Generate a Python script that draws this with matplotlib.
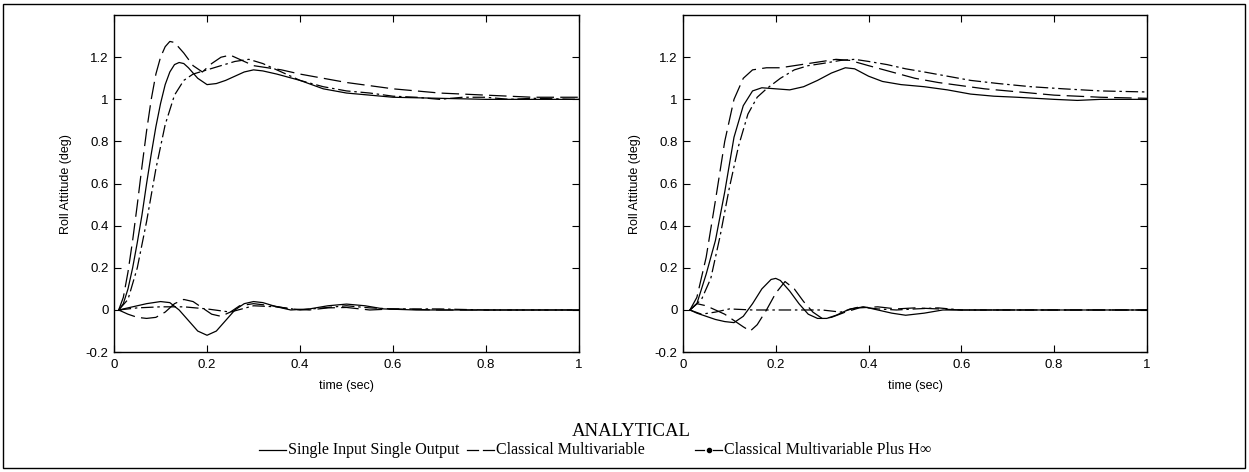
import numpy as np
import matplotlib
matplotlib.use("Agg")
import matplotlib.pyplot as plt
from matplotlib.lines import Line2D
from matplotlib.patches import Rectangle

# roll attitude step responses, left configuration
t_l_siso = [0.01, 0.02, 0.03, 0.04, 0.05, 0.06, 0.07, 0.08, 0.09, 0.10, 0.11, 0.12, 0.13, 0.14, 0.15,
            0.16, 0.18, 0.2, 0.22, 0.24, 0.26, 0.28, 0.3, 0.32, 0.35, 0.4, 0.45, 0.5, 0.55, 0.6, 0.7,
            0.8, 0.9, 1.0]
v_l_siso = [0, 0.03, 0.1, 0.2, 0.32, 0.45, 0.6, 0.74, 0.87, 0.98, 1.07, 1.13, 1.165, 1.175, 1.17,
            1.15, 1.1, 1.07, 1.075, 1.09, 1.11, 1.13, 1.14, 1.135, 1.12, 1.09, 1.05, 1.03, 1.02, 1.01,
            1.005, 1.0, 1.0, 1.0]
t_l_cm = [0.01, 0.02, 0.03, 0.04, 0.05, 0.06, 0.07, 0.08, 0.09, 0.1, 0.11, 0.12, 0.13, 0.15, 0.17,
          0.19, 0.21, 0.23, 0.25, 0.27, 0.3, 0.33, 0.36, 0.4, 0.45, 0.5, 0.55, 0.6, 0.7, 0.8, 0.9, 1.0]
v_l_cm = [0, 0.06, 0.18, 0.33, 0.5, 0.68, 0.85, 1.0, 1.12, 1.2, 1.25, 1.275, 1.27, 1.22, 1.16,
          1.13, 1.17, 1.2, 1.21, 1.19, 1.16, 1.15, 1.14, 1.12, 1.1, 1.08, 1.065, 1.05, 1.03, 1.02,
          1.01, 1.01]
t_l_hinf = [0.01, 0.03, 0.05, 0.07, 0.09, 0.11, 0.13, 0.15, 0.17, 0.2, 0.23, 0.26, 0.29, 0.32, 0.36,
            0.4, 0.45, 0.5, 0.55, 0.6, 0.65, 0.7, 0.75, 0.8, 0.85, 0.9, 1.0]
v_l_hinf = [0, 0.05, 0.2, 0.42, 0.67, 0.88, 1.02, 1.09, 1.12, 1.14, 1.16, 1.18, 1.19, 1.17, 1.13,
            1.09, 1.06, 1.04, 1.03, 1.015, 1.01, 1.0, 1.01, 1.01, 1.0, 1.005, 1.0]

# coupling into the other axis, left configuration
tc_l_siso = [0.01, 0.04, 0.07, 0.1, 0.12, 0.14, 0.16, 0.18, 0.2, 0.22, 0.24, 0.26, 0.28, 0.3, 0.32,
             0.35, 0.38, 0.42, 0.46, 0.5, 0.54, 0.58, 0.65, 0.8, 1.0]
vc_l_siso = [0, 0.015, 0.03, 0.04, 0.035, 0.0, -0.05, -0.1, -0.12, -0.1, -0.05, 0.0, 0.03, 0.04,
             0.035, 0.015, 0.0, 0.005, 0.02, 0.028, 0.02, 0.005, 0.0, 0.0, 0.0]
tc_l_cm = [0.01, 0.03, 0.05, 0.07, 0.09, 0.11, 0.13, 0.15, 0.17, 0.19, 0.21, 0.23, 0.25, 0.27, 0.3,
           0.34, 0.38, 0.42, 0.46, 0.5, 0.55, 0.6, 0.7, 1.0]
vc_l_cm = [0, -0.02, -0.035, -0.04, -0.035, -0.01, 0.03, 0.05, 0.04, 0.01, -0.02, -0.03, -0.01,
           0.02, 0.03, 0.02, 0.005, 0.0, 0.01, 0.012, 0.0, 0.005, 0.0, 0.0]
tc_l_hinf = [0.01, 0.05, 0.1, 0.15, 0.2, 0.25, 0.3, 0.35, 0.4, 0.45, 0.5, 0.55, 0.6, 0.7, 0.8, 1.0]
vc_l_hinf = [0, 0.01, 0.015, 0.015, 0.005, -0.01, 0.02, 0.015, 0.0, 0.01, 0.02, 0.01, 0.005, 0.005,
             0.0, 0.0]

# roll attitude step responses, right configuration
t_r_siso = [0.015, 0.03, 0.05, 0.07, 0.09, 0.11, 0.13, 0.15, 0.17, 0.2, 0.23, 0.26, 0.29, 0.32,
            0.35, 0.37, 0.4, 0.43, 0.47, 0.52, 0.57, 0.62, 0.67, 0.72, 0.8, 0.85, 0.9, 1.0]
v_r_siso = [0, 0.03, 0.17, 0.33, 0.56, 0.82, 0.97, 1.04, 1.055, 1.05, 1.045, 1.06, 1.09, 1.125,
            1.15, 1.145, 1.11, 1.085, 1.07, 1.06, 1.045, 1.025, 1.015, 1.01, 1.0, 0.995, 1.0, 1.0]
t_r_cm = [0.015, 0.03, 0.05, 0.07, 0.09, 0.11, 0.13, 0.15, 0.18, 0.21, 0.24, 0.27, 0.3, 0.33, 0.36,
          0.4, 0.45, 0.5, 0.55, 0.6, 0.65, 0.7, 0.8, 0.9, 1.0]
v_r_cm = [0, 0.06, 0.25, 0.52, 0.8, 1.0, 1.1, 1.14, 1.15, 1.15, 1.16, 1.17, 1.18, 1.19, 1.185,
          1.16, 1.13, 1.1, 1.08, 1.065, 1.05, 1.04, 1.02, 1.01, 1.005]
t_r_hinf = [0.015, 0.04, 0.06, 0.08, 0.1, 0.12, 0.14, 0.16, 0.18, 0.21, 0.24, 0.27, 0.3, 0.34, 0.37,
            0.4, 0.44, 0.48, 0.52, 0.57, 0.62, 0.68, 0.75, 0.82, 0.9, 1.0]
v_r_hinf = [0, 0.05, 0.15, 0.35, 0.58, 0.78, 0.93, 1.01, 1.05, 1.1, 1.14, 1.16, 1.17, 1.185, 1.19,
            1.18, 1.165, 1.145, 1.13, 1.11, 1.09, 1.075, 1.06, 1.05, 1.04, 1.035]

# coupling into the other axis, right configuration
tc_r_siso = [0.015, 0.03, 0.05, 0.07, 0.09, 0.11, 0.13, 0.15, 0.17, 0.19, 0.2, 0.21, 0.23, 0.25,
             0.27, 0.29, 0.31, 0.33, 0.36, 0.39, 0.42, 0.45, 0.48, 0.52, 0.56, 0.6, 0.7, 1.0]
vc_r_siso = [0, -0.015, -0.03, -0.045, -0.055, -0.06, -0.03, 0.03, 0.1, 0.145, 0.15, 0.14, 0.09,
             0.03, -0.02, -0.04, -0.04, -0.025, 0.005, 0.015, 0.0, -0.015, -0.025, -0.015, 0.0,
             0.0, 0.0, 0.0]
tc_r_cm = [0.015, 0.03, 0.05, 0.07, 0.09, 0.11, 0.13, 0.145, 0.16, 0.18, 0.2, 0.22, 0.24, 0.26,
           0.28, 0.3, 0.32, 0.35, 0.38, 0.42, 0.46, 0.5, 0.55, 0.6, 1.0]
vc_r_cm = [0, 0.03, 0.02, 0.0, -0.02, -0.05, -0.08, -0.1, -0.07, 0.0, 0.08, 0.135, 0.1, 0.04,
           -0.01, -0.04, -0.035, -0.01, 0.01, 0.015, 0.005, 0.01, 0.005, 0.0, 0.0]
tc_r_hinf = [0.015, 0.04, 0.07, 0.1, 0.15, 0.2, 0.25, 0.3, 0.34, 0.38, 0.42, 0.46, 0.5, 0.55, 0.6,
             0.7, 0.8, 1.0]
vc_r_hinf = [0, -0.02, -0.01, 0.005, 0.0, 0.0, 0.0, 0.0, -0.01, 0.015, 0.005, 0.0, 0.005, 0.01,
             0.0, 0.0, 0.0, 0.0]

x_ticks = [0, 0.2, 0.4, 0.6, 0.8, 1]
y_ticks = [-0.2, 0, 0.2, 0.4, 0.6, 0.8, 1, 1.2]
legend_labels = ["Single Input Single Output", "Classical Multivariable",
                 "Classical Multivariable Plus H\u221e"]

styles = {
    "siso": dict(color="black", lw=0.9, linestyle="-"),
    "cm": dict(color="black", lw=0.9, linestyle=(0, (14, 5))),
    "hinf": dict(color="black", lw=0.9, linestyle=(0, (10, 3, 2, 3))),
}

plt.rcParams["font.family"] = ["Liberation Sans", "DejaVu Sans"]

W, H = 1249, 472
fig = plt.figure(figsize=(W / 100, H / 100), dpi=100)
ax_l = fig.add_axes([0.0913, 0.254, 0.3723, 0.714])
ax_r = fig.add_axes([0.5468, 0.254, 0.3715, 0.714])

panels = [
    (ax_l, [(t_l_siso, v_l_siso, "siso"), (t_l_cm, v_l_cm, "cm"), (t_l_hinf, v_l_hinf, "hinf"),
            (tc_l_siso, vc_l_siso, "siso"), (tc_l_cm, vc_l_cm, "cm"),
            (tc_l_hinf, vc_l_hinf, "hinf")]),
    (ax_r, [(t_r_siso, v_r_siso, "siso"), (t_r_cm, v_r_cm, "cm"), (t_r_hinf, v_r_hinf, "hinf"),
            (tc_r_siso, vc_r_siso, "siso"), (tc_r_cm, vc_r_cm, "cm"),
            (tc_r_hinf, vc_r_hinf, "hinf")]),
]

for ax, curves in panels:
    for t, v, key in curves:
        ax.plot(t, v, **styles[key])
    ax.set_xlim(0, 1)
    ax.set_ylim(-0.2, 1.4)
    ax.set_xticks(x_ticks)
    ax.set_yticks(y_ticks)
    ax.set_xticklabels([f"{x:g}" for x in x_ticks])
    ax.set_yticklabels([f"{y:g}" for y in y_ticks])
    ax.tick_params(direction="in", top=True, right=True, length=5, width=0.8, labelsize=9.5)
    ax.tick_params(axis="x", pad=5)
    ax.tick_params(axis="y", pad=4)
    for sp in ax.spines.values():
        sp.set_linewidth(1.0)
    ax.set_xlabel("time (sec)", fontsize=9)
    ax.set_ylabel("Roll Attitude (deg)", fontsize=9)
    ax.xaxis.set_label_coords(0.5, -0.082)
    ax.yaxis.set_label_coords(-0.09, 0.5)

# outer frame around the whole figure
fig.add_artist(Rectangle((3 / W, 4 / H), 1242 / W, 464 / H,
                         transform=fig.transFigure, fill=False, lw=1.0, ec="black"))

# caption and hand-built legend row
serif = ["Liberation Serif", "DejaVu Serif"]
fig.text(631 / W, 1 - 432 / H, "ANALYTICAL", ha="center", va="center", fontsize=13.5,
         family=serif)

row_y = 1 - 450 / H
sample_starts = [259, 467, 695]
sample_len = 27
for x0, key, label in zip(sample_starts, ["siso", "cm", "hinf"], legend_labels):
    x1 = x0 + sample_len
    if key == "hinf":
        for a, b in [(x0, x0 + 9), (x1 - 9, x1)]:
            fig.add_artist(Line2D([a / W, b / W], [row_y, row_y], transform=fig.transFigure,
                                  color="black", lw=0.9))
        fig.add_artist(Line2D([(x0 + x1) / 2 / W], [row_y], transform=fig.transFigure,
                              marker="o", ms=3, color="black", linestyle="none"))
    elif key == "cm":
        for a, b in [(x0, x0 + 11), (x1 - 11, x1)]:
            fig.add_artist(Line2D([a / W, b / W], [row_y, row_y], transform=fig.transFigure,
                                  color="black", lw=0.9))
    else:
        fig.add_artist(Line2D([x0 / W, x1 / W], [row_y, row_y], transform=fig.transFigure,
                              color="black", lw=0.9))
    fig.text((x1 + 2) / W, row_y, label, ha="left", va="center", fontsize=11.5, family=serif)

fig.savefig("out.png", dpi=100)
